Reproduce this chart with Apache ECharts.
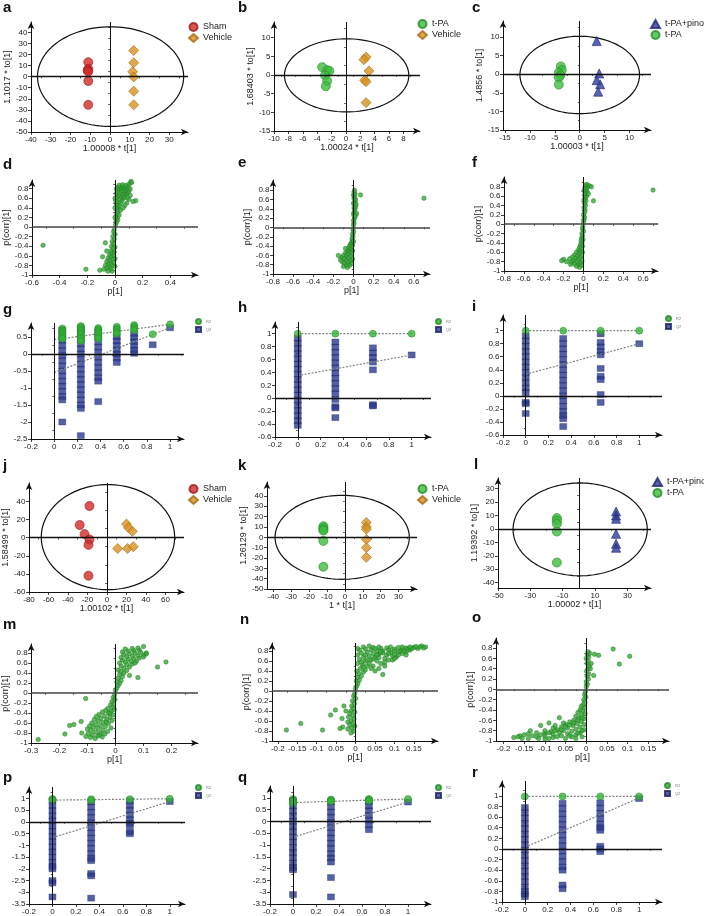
<!DOCTYPE html>
<html>
<head>
<meta charset="utf-8">
<script src="https://cdn.jsdelivr.net/npm/echarts@6/dist/echarts.min.js"></script>
<style>html,body{margin:0;background:#fff}#chart{width:704px;height:916px}</style>
</head>
<body>
<div id="chart"></div>
<script>
let $ = a => document.querySelector(a)
const FONT = 'Liberation Sans, Arial, sans-serif'

// score plots: [t, to] per sample
const aSham = [[-11,13],[-11,7],[-11.3,5.5],[-11,4.5],[-11,-4],[-11,-25.5]]
const aVehicle = [[12,23.5],[12,12.5],[11.5,4.4],[12,-0.3],[12,-13.2],[12,-25.5]]
const bTpa = [[-3.3,2.1],[-2.6,1.3],[-2.3,1.1],[-2.9,-0.1],[-2.6,-1.6],[-2.8,-3]]
const bVehicle = [[2.8,4.8],[2.5,4.1],[3.2,1.1],[2.6,-1.4],[2.8,-1.8],[2.8,-7.4]]
const cPino = [[3.4,8.9],[3.9,0.2],[3.4,-1.6],[4.1,-2.7],[3.7,-4.7]]
const cTpa = [[-3.8,2.1],[-3.6,1.1],[-4.2,0.4],[-3.9,-0.3],[-4.2,-0.9],[-4.2,-2.8]]
const jSham = [[-18,35],[-28,14],[-23,4],[-18,-2],[-19,-8],[-19,-42]]
const jVehicle = [[20,15],[22,11],[26,7],[11,-12],[21,-12],[27,-10]]
const kTpa = [[-12,10.8],[-12,9],[-12,7.5],[-12,6.5],[-12,-3.5],[-12,-28.5]]
const kVehicle = [[12,14.4],[12,10.1],[12,7.9],[12,-2],[12,-10],[12,-19.4]]
const lPino = [[23,13],[23,10],[23,7.6],[23,-3.6],[23,-11.1],[23,-14]]
const lTpa = [[-13.6,8.1],[-13.6,6.3],[-13.6,3.9],[-13.6,-1.9],[-13.6,-25]]

// Hotelling ellipses: [cx, cy, rx, ry]
const aEllipse = [0.3, 0, 37, 45]
const bEllipse = [0.1, -0.1, 8.65, 9.8]
const cEllipse = [0, -0.2, 12, 10.4]
const jEllipse = [1, 0.6, 68.4, 58]
const kEllipse = [-1.5, 0, 37.5, 40.6]
const lEllipse = [0.8, -0.3, 41.5, 34.6]

// S-plots: [p, p(corr)]
const dPoints = [[0.005,0.05],[0.01,0.1],[0.008,0.15],[0.015,0.2],[0.01,0.25],[0.02,0.3],[0.012,0.35],[0.025,0.38],[0.018,0.42],[0.03,0.45],[0.01,0.48],[0.04,0.5],[0.022,0.52],[0.05,0.55],[0.005,0.55],[0.035,0.58],[0.06,0.6],[0.015,0.62],[0.045,0.63],[0.07,0.62],[0.025,0.66],[0.055,0.68],[0.08,0.68],[0.01,0.7],[0.035,0.71],[0.065,0.72],[0.09,0.72],[0.02,0.75],[0.05,0.76],[0.075,0.76],[0.1,0.75],[0.01,0.79],[0.035,0.8],[0.06,0.8],[0.085,0.8],[0.11,0.79],[0.02,0.83],[0.045,0.84],[0.07,0.84],[0.095,0.85],[0.03,0.87],[0.055,0.88],[0.08,0.87],[0.105,0.9],[0.115,0.95],[0.12,0.93],[0.15,0.55],[0.13,0.53],[0.1,0.58],[0.085,0.5],[0.07,0.45],[0.06,0.4],[0.04,0.35],[0.03,0.25],[0.02,0.15],[0.09,0.62],[0.11,0.66],[0,0.6],[0,0.4],[0,0.2],
  [-0.005,-0.05],[-0.01,-0.1],[0,-0.15],[-0.015,-0.2],[-0.005,-0.25],[-0.02,-0.3],[-0.01,-0.35],[-0.025,-0.4],[0,-0.42],[-0.015,-0.45],[-0.03,-0.5],[-0.005,-0.52],[-0.02,-0.55],[-0.04,-0.58],[-0.01,-0.6],[-0.03,-0.62],[-0.05,-0.65],[0,-0.66],[-0.02,-0.68],[-0.04,-0.7],[-0.06,-0.72],[-0.01,-0.74],[-0.03,-0.76],[-0.05,-0.78],[-0.07,-0.8],[-0.02,-0.8],[0,-0.82],[-0.04,-0.84],[-0.06,-0.86],[-0.08,-0.88],[-0.03,-0.88],[-0.05,-0.92],[-0.02,-0.92],
  [-0.52,-0.38],[-0.21,-0.88],[-0.11,-0.9],[-0.07,-0.33],[-0.09,-0.62],[-0.06,-0.5]]
const ePoints = [[0,0.05],[0.005,0.1],[0,0.15],[0.01,0.2],[0.005,0.25],[0,0.3],[0.01,0.35],[0.015,0.4],[0.005,0.42],[0.02,0.45],[0.01,0.5],[0,0.52],[0.015,0.55],[0.02,0.6],[0.005,0.62],[0.01,0.66],[0,0.7],[0.015,0.72],[0.005,0.76],[0.01,0.8],[0.03,0.3],[0.025,0.5],[0.02,0.25],[0.07,0.7],[0.7,0.63],
  [-0.005,-0.05],[0,-0.1],[-0.01,-0.15],[-0.005,-0.2],[-0.015,-0.25],[-0.01,-0.3],[-0.02,-0.33],[-0.03,-0.36],[-0.01,-0.38],[-0.04,-0.4],[-0.02,-0.42],[-0.05,-0.45],[-0.03,-0.47],[-0.01,-0.5],[-0.06,-0.5],[-0.04,-0.53],[-0.08,-0.55],[-0.02,-0.56],[-0.06,-0.58],[-0.1,-0.6],[-0.03,-0.62],[-0.07,-0.63],[-0.12,-0.65],[-0.15,-0.6],[-0.05,-0.66],[-0.09,-0.68],[-0.01,-0.68],[-0.03,-0.72],[-0.07,-0.72],[-0.11,-0.74],[-0.05,-0.76],[-0.09,-0.78],[-0.02,-0.78],[-0.07,-0.82],[-0.04,-0.82],[-0.1,-0.84],[-0.06,-0.86],[-0.13,-0.7],[0,-0.3],[-0.08,-0.45]]
const fPoints = [[0,0.05],[0.005,0.1],[0.01,0.15],[0,0.2],[0.01,0.25],[0.015,0.3],[0.005,0.35],[0.02,0.4],[0.01,0.45],[0.025,0.5],[0.005,0.52],[0.015,0.56],[0.03,0.6],[0.01,0.62],[0.02,0.66],[0.035,0.7],[0.005,0.72],[0.025,0.75],[0.015,0.79],[0.04,0.8],[0.02,0.84],[0.035,0.85],[0.06,0.82],[0.08,0.8],[0.1,0.5],[0.05,0.65],[0.7,0.73],
  [-0.005,-0.05],[-0.01,-0.1],[0,-0.15],[-0.015,-0.2],[-0.01,-0.25],[-0.02,-0.3],[-0.005,-0.33],[-0.025,-0.36],[-0.015,-0.4],[-0.03,-0.44],[-0.01,-0.47],[-0.04,-0.5],[-0.02,-0.52],[-0.05,-0.55],[-0.03,-0.58],[-0.01,-0.6],[-0.07,-0.6],[-0.045,-0.63],[-0.09,-0.66],[-0.02,-0.66],[-0.06,-0.68],[-0.11,-0.7],[-0.035,-0.71],[-0.08,-0.73],[-0.14,-0.74],[-0.2,-0.75],[-0.17,-0.8],[-0.22,-0.78],[-0.05,-0.76],[-0.1,-0.78],[-0.015,-0.78],[-0.07,-0.8],[-0.12,-0.82],[-0.03,-0.83],[-0.09,-0.85],[-0.05,-0.87],[-0.07,-0.9],[-0.02,-0.88],[-0.04,-0.92],[-0.13,-0.86]]
const mPoints = [[0,0.05],[0.005,0.1],[0.01,0.15],[0.015,0.2],[0.005,0.22],[0.02,0.25],[0.01,0.3],[0.025,0.33],[0.015,0.37],[0.03,0.4],[0.02,0.43],[0.04,0.45],[0.01,0.46],[0.03,0.5],[0.05,0.52],[0.02,0.54],[0.04,0.57],[0.06,0.58],[0.015,0.6],[0.035,0.62],[0.055,0.63],[0.075,0.64],[0.025,0.66],[0.045,0.68],[0.065,0.69],[0.085,0.7],[0.02,0.71],[0.04,0.73],[0.06,0.74],[0.08,0.75],[0.1,0.76],[0.03,0.77],[0.05,0.79],[0.07,0.8],[0.09,0.81],[0.11,0.8],[0.025,0.82],[0.045,0.84],[0.065,0.85],[0.085,0.86],[0.035,0.88],[0.06,0.89],[0.08,0.9],[0.1,0.93],[0.11,0.78],[0.15,0.52],[0.18,0.62],[0.08,0.31],[0.05,0.35],[0.07,0.6],[0.1,0.72],
  [-0.003,-0.04],[-0.008,-0.09],[-0.002,-0.13],[-0.012,-0.17],[-0.006,-0.22],[-0.018,-0.24],[-0.01,-0.29],[-0.027,-0.31],[-0.004,-0.33],[-0.035,-0.35],[-0.016,-0.37],[-0.046,-0.38],[-0.024,-0.41],[-0.058,-0.43],[-0.008,-0.44],[-0.039,-0.46],[-0.068,-0.47],[-0.02,-0.49],[-0.052,-0.51],[-0.031,-0.53],[-0.075,-0.53],[-0.012,-0.55],[-0.061,-0.56],[-0.044,-0.59],[-0.084,-0.6],[-0.025,-0.61],[-0.07,-0.63],[-0.053,-0.65],[-0.092,-0.66],[-0.036,-0.67],[-0.079,-0.69],[-0.016,-0.7],[-0.062,-0.71],[-0.1,-0.72],[-0.045,-0.74],[-0.087,-0.75],[-0.028,-0.77],[-0.071,-0.78],[-0.054,-0.8],[-0.097,-0.81],[-0.038,-0.82],[-0.082,-0.84],[-0.063,-0.86],[-0.105,-0.87],[-0.047,-0.88],[-0.089,-0.89],[-0.072,-0.91],[-0.056,-0.84],[-0.033,-0.58],[-0.02,-0.4],
  [-0.275,-0.93],[-0.18,-0.82],[-0.163,-0.65],[-0.148,-0.63],[-0.122,-0.57],[-0.106,-0.11],[-0.12,-0.8]]
const nPoints = [[0,0.05],[0.003,0.1],[0.006,0.15],[0.002,0.2],[0.01,0.22],[0.005,0.28],[0.015,0.3],[0.008,0.35],[0.02,0.38],[0.003,0.4],[0.012,0.45],[0.025,0.42],[0.03,0.5],[0.018,0.52],[0.005,0.55],[0.035,0.55],[0.045,0.5],[0.025,0.6],[0.04,0.62],[0.01,0.63],[0.055,0.6],[0.06,0.45],[0.07,0.33],[0.05,0.4],[0.065,0.55],[0.02,0.68],[0.035,0.7],[0.05,0.68],[0.075,0.65],[0.085,0.62],[0.005,0.72],[0.015,0.76],[0.03,0.78],[0.045,0.75],[0.06,0.74],[0.08,0.72],[0.095,0.7],[0.105,0.68],[0.01,0.82],[0.025,0.84],[0.04,0.82],[0.055,0.8],[0.07,0.8],[0.09,0.78],[0.11,0.78],[0.12,0.75],[0.02,0.88],[0.045,0.87],[0.065,0.85],[0.08,0.86],[0.1,0.84],[0.12,0.83],[0.13,0.86],[0.14,0.82],[0.15,0.87],[0.16,0.85],[0.17,0.9],[0.18,0.88],[0.035,0.9],[0.095,0.62],[0.075,0.5],[0.11,0.72],[0.13,0.78],[0.005,0.85],
  [0.025,0.72],[0.045,0.64],[0.06,0.67],[0.07,0.76],[0.085,0.82],[0.1,0.8],[0.115,0.8],[0.125,0.8],[0.135,0.84],[0.145,0.85],[0.155,0.89],[0.165,0.88],[0.175,0.86],[0.09,0.88],[0.11,0.87],[0.03,0.62],[0.015,0.58],[0.04,0.45],[0.055,0.72],[0.065,0.78],[0.075,0.58],[0.1,0.73],[0.085,0.75],[0.05,0.85],[0.06,0.88],[0.12,0.88],[0.14,0.88],[0.1,0.65],[0.13,0.72],[0.02,0.48],
  [-0.002,-0.05],[-0.005,-0.1],[0,-0.15],[-0.008,-0.2],[-0.003,-0.25],[-0.01,-0.3],[-0.005,-0.35],[-0.012,-0.4],[-0.002,-0.42],[-0.015,-0.45],[-0.007,-0.5],[-0.018,-0.52],[-0.004,-0.56],[-0.012,-0.6],[-0.02,-0.62],[-0.006,-0.65],[-0.015,-0.68],[-0.002,-0.7],[-0.01,-0.74],[-0.02,-0.76],[-0.005,-0.8],[-0.012,-0.84],
  [-0.178,-0.78],[-0.141,-0.65],[-0.085,-0.78],[-0.064,-0.48],[-0.052,-0.38],[-0.033,-0.72],[-0.04,-0.75],[-0.03,-0.3],[-0.025,-0.4],[-0.035,-0.55]]
const oPoints = [[0,0.05],[0.003,0.1],[0,0.15],[0.005,0.2],[0.002,0.25],[0.006,0.3],[0.001,0.35],[0.004,0.4],[0.007,0.45],[0.002,0.5],[0.005,0.55],[0,0.6],[0.006,0.63],[0.003,0.67],[0.008,0.7],[0.004,0.73],[0.02,0.68],[0.03,0.66],[0.012,0.5],[0.018,0.27],[0.01,0.4],[0.065,0.78],[0.08,0.49],[0.105,0.64],
  [-0.002,-0.05],[-0.004,-0.1],[-0.001,-0.15],[-0.006,-0.2],[-0.003,-0.25],[-0.008,-0.3],[-0.012,-0.33],[-0.004,-0.36],[-0.015,-0.4],[-0.008,-0.42],[-0.02,-0.45],[-0.003,-0.47],[-0.012,-0.5],[-0.025,-0.52],[-0.018,-0.56],[-0.005,-0.57],[-0.03,-0.6],[-0.012,-0.62],[-0.04,-0.63],[-0.022,-0.66],[-0.05,-0.68],[-0.005,-0.68],[-0.032,-0.7],[-0.015,-0.73],[-0.06,-0.73],[-0.045,-0.75],[-0.025,-0.77],[-0.07,-0.78],[-0.005,-0.78],[-0.055,-0.8],[-0.035,-0.81],[-0.085,-0.82],[-0.015,-0.84],[-0.065,-0.84],[-0.1,-0.85],[-0.045,-0.86],[-0.12,-0.84],[-0.08,-0.87],[-0.025,-0.88],[-0.14,-0.86],[-0.06,-0.9],[-0.1,-0.9],[-0.16,-0.9],[-0.035,-0.92],[-0.12,-0.92],[-0.08,-0.93],[-0.175,-0.93],[-0.05,-0.95],[-0.14,-0.95],[-0.1,-0.96],[-0.01,-0.92],[-0.065,-0.55],[-0.09,-0.65],[-0.11,-0.7],
  [-0.13,-0.9],[-0.15,-0.88],[-0.11,-0.88],[-0.09,-0.84],[-0.075,-0.8],[-0.06,-0.78],[-0.05,-0.72],[-0.04,-0.69],[-0.03,-0.65],[-0.02,-0.6],[-0.01,-0.55],[-0.07,-0.92],[-0.09,-0.95],[-0.115,-0.95],[-0.155,-0.95],[-0.165,-0.92],[-0.04,-0.9],[-0.02,-0.85],[-0.1,-0.8],[-0.08,-0.75],[-0.055,-0.65],[-0.075,-0.7],[-0.135,-0.8],[-0.025,-0.95],[-0.01,-0.8]]

// permutation tests: x = correlation, one list of values per column
const gCols = [0.07,0.23,0.38,0.54,0.69,0.85,1]
const gR2 = [[0.75,0.7,0.65,0.6,0.55,0.5,0.45],[0.82,0.78,0.73,0.68,0.62,0.56,0.5,0.44,0.38],[0.76,0.72,0.68,0.63,0.57,0.5,0.45],[0.8,0.75,0.7,0.64,0.6],[0.85,0.8,0.75,0.7],[0.58],[0.87]]
const gQ2 = [[0.7,0.55,0.4,0.25,0.1,-0.05,-0.2,-0.35,-0.5,-0.65,-0.8,-0.95,-1.1,-1.25,-1.35,-2],[0.75,0.6,0.45,0.3,0.15,0,-0.15,-0.3,-0.45,-0.6,-0.75,-0.9,-1.05,-1.2,-1.35,-1.5,-1.6,-2.4],[0.65,0.5,0.35,0.2,0.05,-0.1,-0.25,-0.4,-0.55,-0.7,-0.8,-1.4],[0.5,0.38,0.25,0.12,0,-0.12,-0.25],[0.6,0.48,0.36,0.24,0.12,0.02],[0.27],[0.77]]
const gR2Line = [[0,0.42],[1,0.87]]
const gQ2Line = [[0,-0.55],[1,0.77]]

const hCols = [0,0.33,0.66,1]
const hR2 = [[1],[1],[1],[1]]
const hQ2 = [[0.93,0.85,0.77,0.69,0.61,0.53,0.45,0.37,0.29,0.21,0.13,0.05,-0.03,-0.11,-0.19,-0.27,-0.35,-0.42],[0.87,0.79,0.71,0.63,0.55,0.47,0.39,0.31,0.23,0.15,0.07,-0.02,-0.13,-0.15,-0.3],[0.78,0.7,0.63,0.56,0.44,-0.1,-0.12],[0.67]]
const hR2Line = [[0,1],[1,1]]
const hQ2Line = [[0,0.35],[1,0.67]]

const iCols = [0,0.33,0.66,1]
const iR2 = [[1],[1],[1],[1]]
const iQ2 = [[0.92,0.84,0.76,0.68,0.6,0.52,0.44,0.36,0.28,0.2,0.12,0.05,-0.1,-0.12,-0.27],[0.88,0.8,0.72,0.64,0.56,0.48,0.4,0.32,0.24,0.16,0.08,0,-0.08,-0.16,-0.24,-0.3,-0.35,-0.47],[0.95,0.82,0.75,0.68,0.63,0.42,0.3,0.25,0.02,-0.1],[0.8]]
const iR2Line = [[0,1],[1,1]]
const iQ2Line = [[0,0.33],[1,0.8]]

const pCols = [0,0.33,0.66,1]
const pR2 = [[0.98,0.95],[0.97,0.93],[0.97],[0.99]]
const pQ2 = [[0.92,0.7,0.48,0.26,0.04,-0.18,-0.4,-0.62,-0.84,-1.06,-1.28,-1.5,-1.72,-1.9,-2,-2.5,-2.6,-3.2],[0.85,0.63,0.41,0.19,-0.03,-0.25,-0.47,-0.69,-0.91,-1.13,-1.35,-1.55,-1.65,-2.2,-2.3,-3.25],[0.9,0.7,0.5,0.3,0.1,-0.05,-0.15,-0.42,-0.5],[0.87]]
const pR2Line = [[0,0.93],[1,0.99]]
const pQ2Line = [[0,-0.67],[1,0.87]]

const qCols = [0,0.33,0.66,1]
const qR2 = [[0.95,0.9,0.85,0.78],[0.93,0.88,0.85],[0.95,0.92,0.88],[0.95]]
const qQ2 = [[0.88,0.66,0.44,0.22,0,-0.22,-0.44,-0.66,-0.88,-1.1,-1.32,-1.54,-1.76,-1.95,-2.05,-3.1],[0.83,0.61,0.39,0.17,-0.05,-0.27,-0.49,-0.71,-0.93,-1.15,-1.37,-1.55,-1.72,-2.38,-3.2],[0.85,0.65,0.45,0.25,0.05,-0.15,-0.35],[0.82]]
const qR2Line = [[0,0.8],[1,0.95]]
const qQ2Line = [[0,-0.67],[1,0.82]]

const rCols = [0,0.33,0.66,1]
const rR2 = [[0.99],[0.99],[0.99],[0.99]]
const rQ2 = [[0.78,0.68,0.58,0.48,0.38,0.28,0.18,0.08,-0.02,-0.12,-0.22,-0.32,-0.42,-0.52,-0.62,-0.72,-0.8,-0.85,-0.9],[0.86,0.76,0.66,0.56,0.46,0.36,0.26,0.16,0.06,-0.04,-0.14,-0.24,-0.34,-0.4,-0.68,-0.75],[0.87,0.77,0.67,0.57,0.47,0.4,0.35,0.05,0,-0.05],[0.95]]
const rR2Line = [[0,0.99],[1,0.99]]
const rQ2Line = [[0,0.03],[1,0.96]]

// tick values
const aXT = [-40,-30,-20,-10,0,10,20,30]
const aYT = [-50,-40,-30,-20,-10,0,10,20,30,40]
const bXT = [-10,-8,-6,-4,-2,0,2,4,6,8]
const bYT = [-15,-10,-5,0,5,10]
const cXT = [-15,-10,-5,0,5,10]
const dXT = [-0.6,-0.4,-0.2,0,0.2,0.4]
const eXT = [-0.8,-0.6,-0.4,-0.2,0,0.2,0.4,0.6]
const sYT = [-1,-0.8,-0.6,-0.4,-0.2,0,0.2,0.4,0.6,0.8]
const permXT = [-0.2,0,0.2,0.4,0.6,0.8,1]
const gYT = [-2.5,-2,-1.5,-1,-0.5,0,0.5]
const hYT = [-0.6,-0.4,-0.2,0,0.2,0.4,0.6,0.8,1]
const jXT = [-80,-60,-40,-20,0,20,40,60]
const jYT = [-60,-40,-20,0,20,40]
const kXT = [-40,-30,-20,-10,0,10,20,30]
const kYT = [-50,-40,-30,-20,-10,0,10,20,30,40]
const lXT = [-50,-30,-10,10,30]
const lYT = [-40,-30,-20,-10,0,10,20,30]
const mXT = [-0.3,-0.2,-0.1,0,0.1,0.2]
const nXT = [-0.2,-0.15,-0.1,-0.05,0,0.05,0.1,0.15]
const nXLabels = ['-0.2','-0.15','-0.1','0.05','0','0.05','0.1','0.15']
const pYT = [-3.5,-3,-2.5,-2,-1.5,-1,-0.5,0,0.5,1]
const rYT = [-1,-0.8,-0.6,-0.4,-0.2,0,0.2,0.4,0.6,0.8,1]

let grids = [], xAxes = [], yAxes = [], xMinor = [], yMinor = [], series = [], legends = [], titles = []

function axis(gi, range, ticks, name, gap, labels) {
    let a = {
        type: 'value', gridIndex: gi, min: range[0], max: range[1],
        splitLine: {show: false},
        axisLine: {show: true, onZero: false, symbol: ['none', 'arrow'], symbolSize: [5, 7], lineStyle: {color: '#111', width: 1}},
        axisTick: {show: true, length: 3, customValues: ticks, lineStyle: {color: '#111', width: 0.8}},
        axisLabel: {customValues: ticks, fontSize: 8, margin: 3.5, color: '#222', fontFamily: FONT},
        name: name, nameLocation: 'middle', nameGap: gap,
        nameTextStyle: {fontSize: 9, color: '#222', fontFamily: FONT}
    }
    if (labels) a.axisLabel.formatter = v => labels[ticks.indexOf(v)]
    return a
}

// small ticks halfway between the labelled ones
function minorAxis(gi, range, ticks, pos) {
    let step = ticks[1] - ticks[0], vals = []
    for (let k = -1; k < ticks.length; k++) {
        let v = (k < 0 ? ticks[0] - step : ticks[k]) + step / 2
        if (v > range[0] && v < range[1]) vals.push(v)
    }
    return {
        type: 'value', gridIndex: gi, min: range[0], max: range[1], position: pos,
        splitLine: {show: false}, axisLine: {show: false}, axisLabel: {show: false},
        axisTick: {show: true, length: 1.8, customValues: vals, lineStyle: {color: '#111', width: 0.7}}
    }
}

function panel(p) {
    let gi = grids.length
    grids.push({left: p.box[0], top: p.box[1], width: p.box[2], height: p.box[3]})
    xAxes.push(axis(gi, p.x, p.xt, p.xName || '', p.xGap || 10, p.xLabels))
    yAxes.push(axis(gi, p.y, p.yt, p.yName || '', p.yGap || 16))
    xMinor.push(minorAxis(gi, p.x, p.xt, 'bottom'))
    yMinor.push(minorAxis(gi, p.y, p.yt, 'left'))
    titles.push({text: p.id, left: p.tag[0], top: p.tag[1], padding: 0,
        textStyle: {fontSize: 15, fontWeight: 'bold', color: '#111', fontFamily: FONT}})
    return gi
}

// zero lines through the origin
function zeroLines(hColor, hWidth) {
    return {
        silent: true, symbol: ['none', 'none'], label: {show: false}, emphasis: {disabled: true}, animation: false,
        data: [
            {xAxis: 0, lineStyle: {color: '#111', width: 1, type: 'solid'}},
            {yAxis: 0, lineStyle: {color: hColor, width: hWidth, type: 'solid'}}
        ]
    }
}

const MARK = {
    'Sham': {symbol: 'circle', size: 9, color: '#d22b2b', border: '#9a1a1a'},
    'Vehicle': {symbol: 'diamond', size: 10, color: '#d8921f', border: '#a86c14'},
    't-PA': {symbol: 'circle', size: 9, color: '#3dbd3d', border: '#278c27'},
    't-PA+pino': {symbol: 'triangle', size: 9, color: '#2e3d9e', border: '#1e2870'}
}

function scorePlot(p, groups, ell) {
    let gi = panel(p)
    groups.forEach(g => {
        let m = MARK[g[0]]
        series.push({type: 'scatter', name: g[0], xAxisIndex: gi, yAxisIndex: gi, data: g[1],
            symbol: m.symbol, symbolSize: m.size, z: 3,
            itemStyle: {color: m.color, borderColor: m.border, borderWidth: 0.8}})
    })
    // ellipse outline from centre and radii
    let pts = []
    for (let k = 0; k <= 120; k++) {
        let t = k / 120 * 2 * Math.PI
        pts.push([ell[0] + ell[2] * Math.cos(t), ell[1] + ell[3] * Math.sin(t)])
    }
    series.push({type: 'line', name: 'ellipse', xAxisIndex: gi, yAxisIndex: gi, data: pts, symbol: 'none',
        silent: true, z: 2, lineStyle: {color: '#111', width: 1.2}, markLine: zeroLines('#111', 1.3)})
    legends.push({left: p.leg[0], top: p.leg[1], orient: 'vertical', padding: 0, itemGap: 1,
        itemWidth: 9, itemHeight: 8, selectedMode: false, data: groups.map(g => g[0]),
        textStyle: {fontSize: 9, color: '#222', fontFamily: FONT, lineHeight: 10}})
}

function sPlot(p, pts) {
    let gi = panel(p)
    series.push({type: 'scatter', name: 'var', xAxisIndex: gi, yAxisIndex: gi, data: pts, symbolSize: 4.5,
        itemStyle: {color: '#35a935', borderColor: '#1d6f1d', borderWidth: 0.5}, markLine: zeroLines('#444', 1.6)})
}

function permPlot(p, cols, r2, q2, r2Line, q2Line) {
    let gi = panel(p)
    let flat = v => v.flatMap((c, k) => c.map(y => [cols[k], y]))
    series.push({type: 'scatter', name: 'Q2', xAxisIndex: gi, yAxisIndex: gi, data: flat(q2), symbol: 'rect',
        symbolSize: [7, 6], z: 2, itemStyle: {color: '#2b3990', borderColor: '#1a2360', borderWidth: 0.4},
        markLine: zeroLines('#111', 1.3)})
    series.push({type: 'scatter', name: 'R2', xAxisIndex: gi, yAxisIndex: gi, data: flat(r2), symbol: 'circle',
        symbolSize: 7, z: 4, itemStyle: {color: '#33b533', borderColor: '#23862a', borderWidth: 0.6}})
    for (let l of [r2Line, q2Line]) {
        series.push({type: 'line', name: 'fit', xAxisIndex: gi, yAxisIndex: gi, data: l, symbol: 'none', silent: true,
            z: 3, lineStyle: {color: '#808080', width: 1.2, type: [2, 1.5]}})
    }
    legends.push({left: p.leg[0], top: p.leg[1], orient: 'vertical', padding: 0, itemGap: 1,
        itemWidth: 5, itemHeight: 5, selectedMode: false, data: ['R2', 'Q2'],
        textStyle: {fontSize: 4, color: '#777', lineHeight: 5}})
}

// row 1
scorePlot({id: 'a', box: [31, 22, 157, 110], x: [-40, 39.5], y: [-50, 49.3], xt: aXT, yt: aYT,
    xName: '1.00008 * t[1]', yName: '1.1017 * to[1]', yGap: 17, tag: [3, 0], leg: [188, 22]},
    [['Sham', aSham], ['Vehicle', aVehicle]], aEllipse)
scorePlot({id: 'b', box: [274, 22, 146, 109], x: [-10, 10.3], y: [-15, 14.2], xt: bXT, yt: bYT,
    xName: '1.00024 * t[1]', yName: '1.68403 * to[1]', yGap: 14, tag: [238, 0], leg: [417, 19]},
    [['t-PA', bTpa], ['Vehicle', bVehicle]], bEllipse)
scorePlot({id: 'c', box: [503, 21, 148, 109], x: [-15.4, 14.3], y: [-15, 14.3], xt: cXT, yt: bYT,
    xName: '1.00003 * t[1]', yName: '1.4856 * to[1]', yGap: 14, tag: [472, 0], leg: [650, 19]},
    [['t-PA+pino', cPino], ['t-PA', cTpa]], cEllipse)

// row 2
sPlot({id: 'd', box: [32, 180, 166, 95], x: [-0.6, 0.6], y: [-1, 0.98], xt: dXT, yt: sYT,
    xName: 'p[1]', yName: 'p(corr)[1]', yGap: 19, tag: [3, 157]}, dPoints)
sPlot({id: 'e', box: [273, 180, 157, 94], x: [-0.8, 0.76], y: [-1, 1.02], xt: eXT, yt: sYT,
    xName: 'p[1]', yName: 'p(corr)[1]', yGap: 19, tag: [238, 155]}, ePoints)
sPlot({id: 'f', box: [504, 177, 154, 94], x: [-0.8, 0.75], y: [-1, 1.01], xt: eXT, yt: sYT,
    xName: 'p[1]', yName: 'p(corr)[1]', yGap: 19, tag: [472, 155]}, fPoints)

// row 3
permPlot({id: 'g', box: [31, 323, 153, 116], x: [-0.2, 1.12], y: [-2.5, 0.91], xt: permXT, yt: gYT,
    tag: [3, 302], leg: [195, 318]}, gCols, gR2, gQ2, gR2Line, gQ2Line)
permPlot({id: 'h', box: [275, 322, 156, 115], x: [-0.2, 1.17], y: [-0.6, 1.18], xt: permXT, yt: hYT,
    tag: [238, 300], leg: [435, 318]}, hCols, hR2, hQ2, hR2Line, hQ2Line)
permPlot({id: 'i', box: [503, 315, 159, 120], x: [-0.2, 1.2], y: [-0.6, 1.24], xt: permXT, yt: hYT,
    tag: [472, 299], leg: [665, 315]}, iCols, iR2, iQ2, iR2Line, iQ2Line)

// row 4
scorePlot({id: 'j', box: [29, 483, 155, 109], x: [-80, 79], y: [-60, 60.4], xt: jXT, yt: jYT,
    xName: '1.00102 * t[1]', yName: '1.58499 * to[1]', yGap: 17, tag: [3, 458], leg: [188, 484]},
    [['Sham', jSham], ['Vehicle', jVehicle]], jEllipse)
scorePlot({id: 'k', box: [267, 482, 150, 107], x: [-43.5, 40.3], y: [-50, 53.5], xt: kXT, yt: kYT,
    xName: '1 * t[1]', yName: '1.26129 * to[1]', yGap: 13, tag: [238, 458], leg: [417, 484]},
    [['t-PA', kTpa], ['Vehicle', kVehicle]], kEllipse)
scorePlot({id: 'l', box: [498, 478, 153, 110], x: [-50, 44.6], y: [-44, 38], xt: lXT, yt: lYT,
    xName: '1.00002 * t[1]', yName: '1.19392 * to[1]', yGap: 16, tag: [474, 457], leg: [652, 477]},
    [['t-PA+pino', lPino], ['t-PA', lTpa]], lEllipse)

// row 5
sPlot({id: 'm', box: [30, 644, 168, 99], x: [-0.3, 0.294], y: [-1, 0.98], xt: mXT, yt: sYT,
    xName: 'p[1]', yName: 'p(corr)[1]', yGap: 19, tag: [3, 617]}, mPoints)
sPlot({id: 'n', box: [272, 643, 166, 98], x: [-0.215, 0.212], y: [-1, 0.96], xt: nXT, yt: sYT, xLabels: nXLabels,
    xName: 'p[1]', yName: 'p(corr)[1]', yGap: 21, tag: [240, 612]}, nPoints)
sPlot({id: 'o', box: [496, 638, 173, 103], x: [-0.218, 0.2], y: [-1, 0.995], xt: nXT, yt: sYT, xLabels: nXLabels,
    xName: 'p[1]', yName: 'p(corr)[1]', yGap: 17, tag: [472, 610]}, oPoints)

// row 6
permPlot({id: 'p', box: [29, 787, 156, 117], x: [-0.2, 1.13], y: [-3.5, 1.49], xt: permXT, yt: pYT,
    tag: [3, 770], leg: [195, 784]}, pCols, pR2, pQ2, pR2Line, pQ2Line)
permPlot({id: 'q', box: [270, 786, 161, 118], x: [-0.2, 1.2], y: [-3.5, 1.5], xt: permXT, yt: pYT,
    tag: [238, 770], leg: [435, 784]}, qCols, qR2, qQ2, qR2Line, qQ2Line)
permPlot({id: 'r', box: [502, 781, 160, 121], x: [-0.2, 1.2], y: [-1, 1.28], xt: permXT, yt: rYT,
    tag: [472, 765], leg: [664, 782]}, rCols, rR2, rQ2, rR2Line, rQ2Line)

echarts.init($('#chart')).setOption({
    backgroundColor: '#fff',
    animation: false,
    title: titles,
    legend: legends,
    grid: grids,
    xAxis: xAxes.concat(xMinor),
    yAxis: yAxes.concat(yMinor),
    series: series
})
</script>
</body>
</html>
